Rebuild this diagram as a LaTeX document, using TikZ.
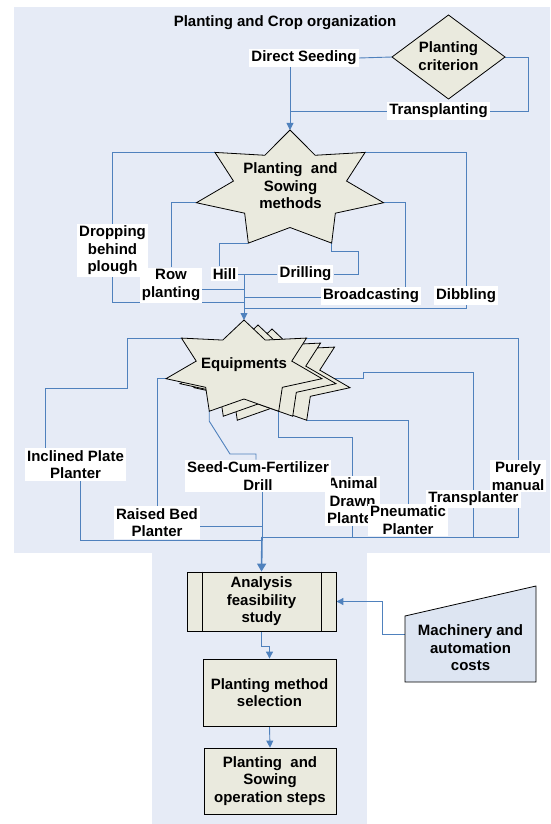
\documentclass[tikz,border=0pt]{standalone}
\usepackage{fontspec}
\setmainfont{Liberation Sans}
\usetikzlibrary{calc,arrows.meta}

\definecolor{regionbg}{RGB}{230,235,246}
\definecolor{nodefill}{RGB}{234,234,222}
\definecolor{linkblue}{RGB}{79,129,189}
\definecolor{costfill}{RGB}{221,229,242}

\newcommand\lblfont{\fontsize{15}{17.5}\selectfont\bfseries}

\pgfdeclarelayer{regions}
\pgfdeclarelayer{links}
\pgfsetlayers{regions,links,main}

\tikzset{
  lbl/.style={font=\lblfont, align=center, inner sep=2pt},
  tag/.style={lbl, fill=white},
  boxnode/.style={lbl, draw=black, fill=nodefill, line width=0.8pt, inner sep=0pt},
  shapeline/.style={draw=black, fill=nodefill, line width=0.8pt, line join=miter},
  link/.style={draw=linkblue, line width=0.9pt},
  mainlink/.style={draw=linkblue, line width=1.6pt},
  tip/.style={-{Triangle[length=7pt,width=7pt]}},
  bigtip/.style={-{Triangle[length=8pt,width=9pt]}},
}

% seven-pointed star stretched to an ellipse; names #1-0 .. #1-6 for the outer points
\newcommand\ellstar[7]{%
  \foreach \k in {0,...,6}{%
    \coordinate (#1-\k) at ($(#2,#3)+({-90+\k*360/7}:#4 and #5)$);
    \coordinate (#1-i\k) at ($(#2,#3)+({-90+(\k+0.5)*360/7}:#6 and #7)$);
  }%
  \draw[shapeline] (#1-0) -- (#1-i0) -- (#1-1) -- (#1-i1) -- (#1-2) -- (#1-i2)
    -- (#1-3) -- (#1-i3) -- (#1-4) -- (#1-i4) -- (#1-5) -- (#1-i5)
    -- (#1-6) -- (#1-i6) -- cycle;
}

\begin{document}
\begin{tikzpicture}[x=1pt,y=-1pt]
\useasboundingbox (0,0) rectangle (550,824);

\begin{pgfonlayer}{regions}
  \fill[regionbg] (14,7) rectangle (550,553);
  \fill[regionbg] (152,553) rectangle (367,824);
\end{pgfonlayer}

% ---------- planting criterion ----------
\node[lbl] (title) at (285,23) {Planting and Crop organization};

\coordinate (crit-n) at (448.5,15);
\coordinate (crit-e) at (505,57);
\coordinate (crit-s) at (448.5,99);
\coordinate (crit-w) at (392,57);
\draw[shapeline] (crit-n) -- (crit-e) -- (crit-s) -- (crit-w) -- cycle;
\node[lbl] (crit) at (448.5,56) {Planting\\criterion};

\node[tag] (ds) at (304,58) {Direct Seeding};
\node[tag] (tp) at (438.5,111) {Transplanting};

% ---------- planting and sowing methods ----------
\ellstar{ps}{290}{189.5}{96}{59.5}{58}{38}
\node[lbl] (psm) at (290.5,186) {Planting\ \ and\\Sowing\\methods};

\node[tag] (drop) at (112.5,250.5) {Dropping\\behind\\plough};
\node[tag] (row) at (171,285) {Row\\planting};
\node[tag] (hill) at (224.5,274) {Hill};
\node[tag] (drill) at (305.5,274) {Drilling};
\node[tag] (broad) at (371,296) {Broadcasting};
\node[tag] (dib) at (466,295.5) {Dibbling};

% ---------- equipments ----------
\ellstar{eqc}{272}{377}{80}{48}{49}{31}
\ellstar{eqb}{258}{373}{80}{48}{49}{31}
\ellstar{eq}{244}{368}{80}{48}{49}{31}
\node[lbl] (eqm) at (244,365) {Equipments};

\node[tag] (incl) at (75.5,464.5) {Inclined Plate\\Planter};
\node[tag] (raised) at (157,522.5) {Raised Bed\\Planter};
\node[tag] (animal) at (352.5,501) {Animal\\Drawn\\Planter};
\node[tag] (seed) at (258,476) {Seed-Cum-Fertilizer\\Drill};
\node[tag] (pure) at (518,476) {Purely\\manual};
\node[tag] (trans) at (473.5,499) {Transplanter};
\node[tag] (pneu) at (408,520) {Pneumatic\\Planter};

% ---------- analysis chain ----------
\node[boxnode, minimum width=149pt, minimum height=59pt] (ana) at (261.5,601.5)
  {Analysis\\feasibility\\study};
\draw[line width=0.8pt] ($(ana.north west)+(16,0)$) -- ($(ana.south west)+(16,0)$);
\draw[line width=0.8pt] ($(ana.north east)+(-15,0)$) -- ($(ana.south east)+(-15,0)$);

\node[boxnode, minimum width=133pt, minimum height=67pt] (sel) at (269.5,692.5)
  {Planting method\\selection};
\node[boxnode, minimum width=132pt, minimum height=66pt] (steps) at (270,781)
  {Planting\ \ and\\Sowing\\operation steps};

\draw[line width=0.8pt, fill=costfill] (405,616) -- (536,586) -- (536,682) -- (405,682) -- cycle;
\node[lbl] (cost) at (470.5,648) {Machinery and\\automation\\costs};
\coordinate (cost-w) at (405,634);

% ---------- connectors ----------
\begin{pgfonlayer}{links}
  \draw[link] (crit-w) -- (ds.east);
  \draw[link] (crit-e) -- ++(23,0) |- (tp.east);
  \draw[link] (tp.west) -- (tp.west -| ps-0);
  \draw[link,tip] (ds.south -| ps-0) -- (ps-0);

  \coordinate (trunk) at (244,274);
  \coordinate (j-row) at (244,289);
  \coordinate (j-broad) at (244,297);
  \coordinate (j-drop) at (244,302);
  \coordinate (j-dib) at (244,308);
  \draw[link] (ps-6) -| (drop.north);
  \draw[link] (drop.south) |- (j-drop);
  \draw[link] (ps-5) -| (row.north);
  \draw[link] (row.east |- j-row) -- (j-row);
  \draw[link] (ps-4) -| ($(hill.north)+(-5,0)$);
  \draw[link] (hill.east) -- (hill.east -| trunk);
  \draw[link] (drill.west) -- (drill.west -| trunk);
  \draw[link] (ps-3) |- ($(drill.east)+(25,-23)$) |- (drill.east);
  \draw[link] (ps-2) -| ($(broad.north)+(34,0)$);
  \draw[link] (broad.west |- j-broad) -- (j-broad);
  \draw[link] (ps-1) -| (dib.north);
  \draw[link] (dib.south) |- (j-dib);
  \draw[link,tip] (trunk) -- (eq-0);

  \coordinate (j-raised) at (262,526);
  \coordinate (j-right) at (262,537);
  \coordinate (j-left) at (262,540);
  \draw[link] (eq-6) -| (127,388) -| ($(incl.north)+(-30,0)$);
  \draw[link] ($(incl.south)+(4.5,0)$) |- (j-left);
  \draw[link] (eq-5) -| (raised.north);
  \draw[link] (raised.east |- j-raised) -- (j-raised);
  \draw[link] (eq-4) -- ++(0,10) -- (230,454) -| ($(seed.north)+(-2,0)$);
  \draw[link] (seed.south -| j-left) -- (j-left);
  \draw[link] (eq-3) |- ($(animal.north)+(0,-38)$) -- (animal.north);
  \draw[link] (animal.south) -- (animal.south |- j-right);
  \draw[link] (eqc-3) -| (pneu.north);
  \draw[link] (eq-2) -- ++(41,0) |- ($(trans.north)+(0,-117)$) -- (trans.north);
  \draw[link] (trans.south) -- (trans.south |- j-right);
  \draw[link] (eq-1) -| (pure.north);
  \draw[link] (pure.south) |- (j-right);
  \draw[mainlink,bigtip] (j-right) -- (ana.north);

  \draw[link,tip] (ana.south) |- ($(sel.north)+(0,-12)$) -- (sel.north);
  \draw[link,tip] (sel.south) -- (steps.north);
  \draw[link,tip] (cost-w) -| ($(ana.east)+(46,0)$) -- (ana.east);
\end{pgfonlayer}
\end{tikzpicture}
\end{document}
